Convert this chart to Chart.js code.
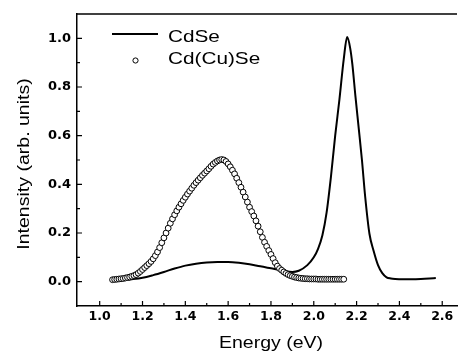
<!DOCTYPE html>
<html>
<head>
<meta charset="utf-8">
<script src="https://cdn.jsdelivr.net/npm/chart.js@4.4.1/dist/chart.umd.min.js"></script>
<style>
  html, body { margin: 0; padding: 0; background: #fff; }
</style>
</head>
<body>
<canvas id="chart" width="462" height="358"></canvas>
<script>
// CdSe emission (solid line)
const cdseEnergy = [1.07, 1.10, 1.15, 1.20, 1.25, 1.30, 1.35, 1.40, 1.45, 1.50, 1.55, 1.60, 1.65, 1.70, 1.75,
  1.80, 1.85, 1.90, 1.93, 1.97, 2.00, 2.02, 2.04, 2.06, 2.08, 2.10, 2.12, 2.14, 2.156, 2.17, 2.18, 2.195,
  2.21, 2.225, 2.24, 2.26, 2.28, 2.30, 2.32, 2.34, 2.36, 2.38, 2.42, 2.46, 2.50, 2.54, 2.57];
const cdseIntensity = [0.004, 0.006, 0.010, 0.016, 0.027, 0.040, 0.054, 0.066, 0.074, 0.079, 0.081, 0.081, 0.078, 0.072, 0.063,
  0.055, 0.047, 0.040, 0.045, 0.068, 0.100, 0.135, 0.190, 0.285, 0.430, 0.600, 0.750, 0.915, 1.005, 0.960, 0.895, 0.758,
  0.630, 0.500, 0.350, 0.197, 0.125, 0.068, 0.035, 0.018, 0.013, 0.011, 0.010, 0.010, 0.011, 0.013, 0.015];

// Cd(Cu)Se emission (open circles)
const cucdEnergy = [1.06, 1.07, 1.08, 1.09, 1.10, 1.11, 1.12, 1.13, 1.14, 1.15, 1.16, 1.17, 1.18, 1.19,
  1.20, 1.21, 1.22, 1.23, 1.24, 1.25, 1.26, 1.27, 1.28, 1.29, 1.30, 1.31, 1.32, 1.33, 1.34, 1.35, 1.36, 1.37, 1.38, 1.39,
  1.40, 1.41, 1.42, 1.43, 1.44, 1.45, 1.46, 1.47, 1.48, 1.49, 1.50, 1.51, 1.52, 1.53, 1.54, 1.55, 1.56, 1.57, 1.58, 1.59,
  1.60, 1.61, 1.62, 1.63, 1.64, 1.65, 1.66, 1.67, 1.68, 1.69, 1.70, 1.71, 1.72, 1.73, 1.74, 1.75, 1.76, 1.77, 1.78, 1.79,
  1.80, 1.81, 1.82, 1.83, 1.84, 1.85, 1.86, 1.87, 1.88, 1.89, 1.90, 1.91, 1.92, 1.93, 1.94, 1.95, 1.96, 1.97, 1.98, 1.99,
  2.00, 2.01, 2.02, 2.03, 2.04, 2.05, 2.06, 2.07, 2.08, 2.09, 2.10, 2.11, 2.12, 2.13, 2.14];
const cucdIntensity = [0.008, 0.009, 0.010, 0.011, 0.012, 0.013, 0.015, 0.017, 0.019, 0.022, 0.025, 0.029, 0.035, 0.042,
  0.050, 0.058, 0.066, 0.074, 0.083, 0.094, 0.107, 0.122, 0.140, 0.160, 0.180, 0.200, 0.220, 0.240, 0.258, 0.275, 0.291, 0.306, 0.320, 0.334,
  0.347, 0.360, 0.372, 0.384, 0.396, 0.407, 0.417, 0.427, 0.437, 0.446, 0.455, 0.464, 0.474, 0.483, 0.490, 0.496, 0.500, 0.502, 0.500, 0.494,
  0.484, 0.472, 0.458, 0.443, 0.425, 0.407, 0.388, 0.368, 0.348, 0.327, 0.306, 0.288, 0.270, 0.250, 0.228, 0.205, 0.182, 0.162, 0.145, 0.128,
  0.112, 0.095, 0.078, 0.064, 0.054, 0.047, 0.040, 0.034, 0.029, 0.025, 0.022, 0.019, 0.017, 0.015, 0.014, 0.013, 0.012, 0.012, 0.011, 0.011,
  0.011, 0.011, 0.010, 0.010, 0.010, 0.010, 0.010, 0.010, 0.010, 0.010, 0.010, 0.010, 0.010, 0.010, 0.010];

const xTicks = [1.0, 1.2, 1.4, 1.6, 1.8, 2.0, 2.2, 2.4, 2.6];
const xMinorTicks = [1.1, 1.3, 1.5, 1.7, 1.9, 2.1, 2.3, 2.5];
const yTicks = [0.0, 0.2, 0.4, 0.6, 0.8, 1.0];
const yMinorTicks = [0.1, 0.3, 0.5, 0.7, 0.9];

const FONT = '"Liberation Sans", Arial, sans-serif';
const TICK_FONT = '"DejaVu Sans", sans-serif';
const STRETCH = 1.22; // the reference text is a bit wider than plain Arial

const toPoints = (xs, ys) => xs.map((x, i) => ({ x: x, y: ys[i] }));

function wideText(ctx, text, x, y) {
  ctx.save();
  ctx.translate(x, y);
  ctx.scale(STRETCH, 1);
  ctx.fillText(text, 0, 0);
  ctx.restore();
}

// frame top, inward ticks, legend and axis titles
const decorations = {
  id: 'decorations',
  afterDraw(chart) {
    const ctx = chart.ctx;
    const area = chart.chartArea;
    const xs = chart.scales.x;
    const ys = chart.scales.y;
    ctx.save();
    ctx.strokeStyle = '#000';
    ctx.lineWidth = 1.5;
    ctx.beginPath();
    ctx.moveTo(area.left, area.top);
    ctx.lineTo(area.right, area.top);
    ctx.stroke();

    ctx.lineWidth = 1.2;
    ctx.beginPath();
    xTicks.forEach(v => { const p = xs.getPixelForValue(v); ctx.moveTo(p, area.bottom); ctx.lineTo(p, area.bottom - 5); });
    xMinorTicks.forEach(v => { const p = xs.getPixelForValue(v); ctx.moveTo(p, area.bottom); ctx.lineTo(p, area.bottom - 3); });
    yTicks.forEach(v => { const p = ys.getPixelForValue(v); ctx.moveTo(area.left, p); ctx.lineTo(area.left + 5, p); });
    yMinorTicks.forEach(v => { const p = ys.getPixelForValue(v); ctx.moveTo(area.left, p); ctx.lineTo(area.left + 3, p); });
    ctx.stroke();

    // legend
    ctx.lineWidth = 2;
    ctx.beginPath();
    ctx.moveTo(112, 34);
    ctx.lineTo(158, 34);
    ctx.stroke();
    ctx.lineWidth = 1;
    ctx.fillStyle = '#fff';
    ctx.beginPath();
    ctx.arc(135.5, 60.5, 2.6, 0, Math.PI * 2);
    ctx.fill();
    ctx.stroke();

    ctx.fillStyle = '#000';
    ctx.font = '17px ' + FONT;
    ctx.textAlign = 'left';
    ctx.textBaseline = 'alphabetic';
    wideText(ctx, chart.data.datasets[0].label, 168, 42);
    wideText(ctx, chart.data.datasets[1].label, 168, 64);

    // axis titles
    ctx.font = '16px ' + FONT;
    ctx.textAlign = 'center';
    ctx.textBaseline = 'middle';
    wideText(ctx, 'Energy (eV)', 271, 344);
    ctx.translate(25, 164);
    ctx.rotate(-Math.PI / 2);
    wideText(ctx, 'Intensity (arb. units)', 0, 0);
    ctx.restore();
  }
};

new Chart(document.getElementById('chart'), {
  type: 'line',
  data: {
    datasets: [
      {
        label: 'CdSe',
        data: toPoints(cdseEnergy, cdseIntensity),
        borderColor: '#000',
        borderWidth: 2,
        pointRadius: 0,
        cubicInterpolationMode: 'monotone',
        fill: false,
        order: 2
      },
      {
        label: 'Cd(Cu)Se',
        data: toPoints(cucdEnergy, cucdIntensity),
        showLine: false,
        pointRadius: 2.9,
        pointBorderWidth: 1,
        pointBorderColor: '#000',
        pointBackgroundColor: '#fff',
        order: 1
      }
    ]
  },
  options: {
    responsive: false,
    animation: false,
    devicePixelRatio: 1,
    layout: { padding: { top: 14, right: 0, left: 0, bottom: 0 } },
    plugins: { legend: { display: false }, tooltip: { enabled: false } },
    scales: {
      x: {
        type: 'linear',
        min: 0.894,
        max: 2.669,
        afterFit(scale) { scale.height = 52; scale.paddingLeft = 0; scale.paddingRight = 0; },
        afterBuildTicks(scale) { scale.ticks = xTicks.map(v => ({ value: v })); },
        grid: { display: false, drawTicks: false },
        border: { color: '#000', width: 1.5 },
        ticks: {
          padding: 3,
          color: '#000',
          font: { family: TICK_FONT, size: 12.5, weight: 'bold' },
          callback: v => v.toFixed(1)
        }
      },
      y: {
        type: 'linear',
        min: -0.1,
        max: 1.1,
        afterFit(scale) { scale.width = 77; scale.paddingTop = 0; scale.paddingBottom = 0; },
        afterBuildTicks(scale) { scale.ticks = yTicks.map(v => ({ value: v })); },
        grid: { display: false, drawTicks: false },
        border: { color: '#000', width: 1.5 },
        ticks: {
          padding: 6,
          color: '#000',
          font: { family: TICK_FONT, size: 13, weight: 'bold' },
          callback: v => v.toFixed(1)
        }
      }
    }
  },
  plugins: [decorations]
});
</script>
</body>
</html>
